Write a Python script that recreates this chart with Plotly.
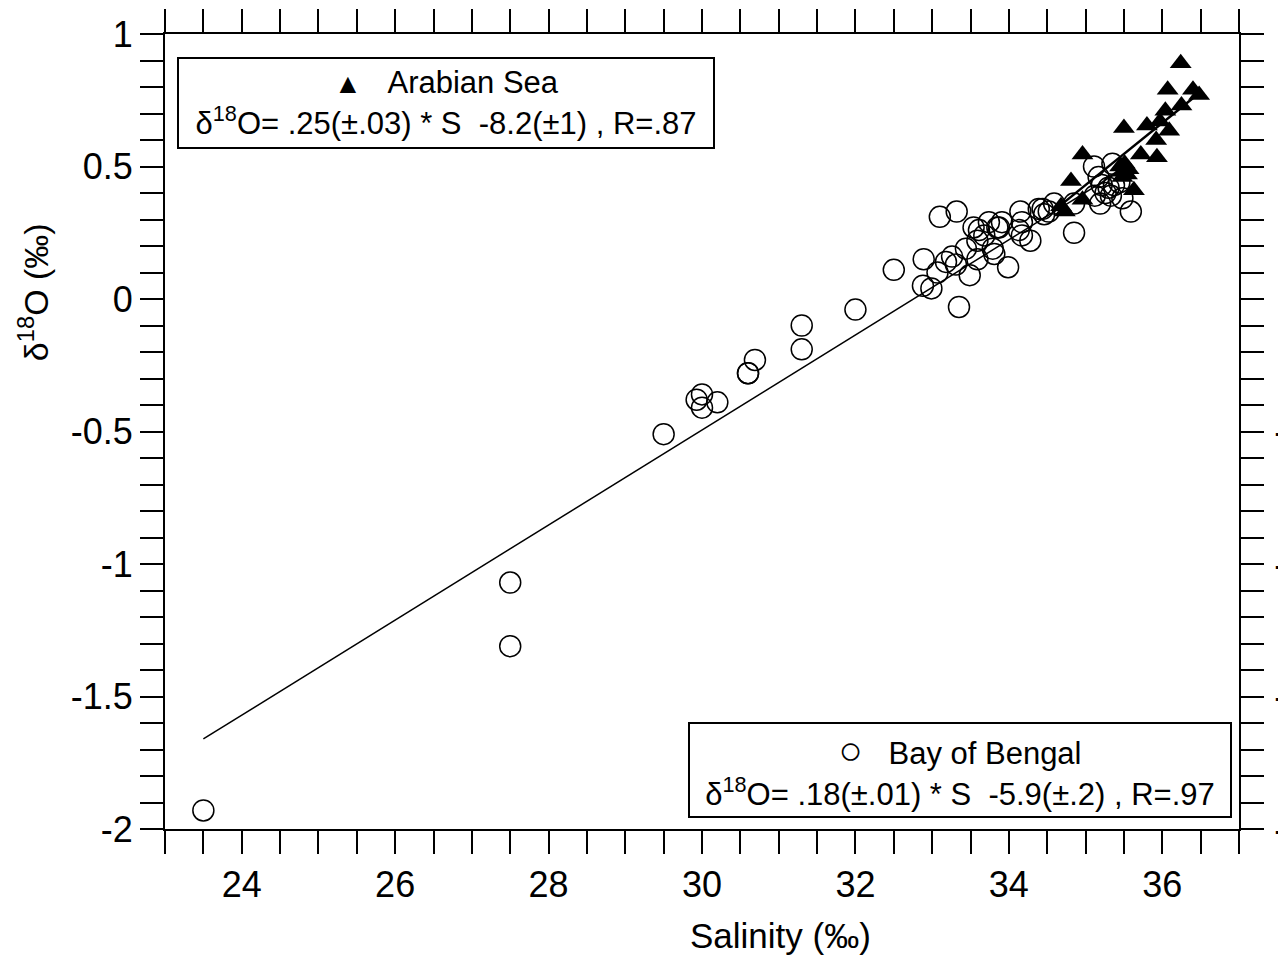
import plotly.graph_objects as go

# Bay of Bengal samples (salinity, d18O)
sal_bob = [23.5, 27.5, 27.5, 29.5, 29.93, 30.0, 30.0, 30.2, 30.6, 30.6, 30.69,
           31.3, 31.3, 32.0, 32.5, 32.88, 32.89, 32.99, 33.07, 33.1, 33.18, 33.26,
           33.31, 33.32, 33.35, 33.44, 33.49, 33.54, 33.59, 33.59, 33.61, 33.68,
           33.74, 33.79, 33.81, 33.85, 33.87, 33.91, 33.99, 34.13, 34.15, 34.17,
           34.17, 34.28, 34.39, 34.44, 34.46, 34.52, 34.59, 34.85, 34.85, 35.11,
           35.12, 35.17, 35.19, 35.21, 35.26, 35.3, 35.33, 35.35, 35.37, 35.44,
           35.48, 35.59]
d18o_bob = [-1.93, -1.07, -1.31, -0.51, -0.38, -0.36, -0.41, -0.39, -0.28, -0.28, -0.23,
            -0.10, -0.19, -0.04, 0.11, 0.05, 0.15, 0.04, 0.10, 0.31, 0.14, 0.16,
            0.13, 0.33, -0.03, 0.19, 0.09, 0.27, 0.22, 0.15, 0.26, 0.24,
            0.29, 0.19, 0.17, 0.27, 0.27, 0.29, 0.12, 0.26, 0.33, 0.29,
            0.24, 0.22, 0.34, 0.34, 0.32, 0.33, 0.36, 0.25, 0.36, 0.50,
            0.39, 0.46, 0.36, 0.43, 0.40, 0.42, 0.39, 0.51, 0.43, 0.44,
            0.38, 0.33]

# Arabian Sea samples
sal_arab = [36.24, 36.07, 36.40, 36.48, 36.25, 36.04, 35.97, 35.50, 35.80, 36.09,
            35.92, 35.72, 35.93, 34.96, 35.51, 35.56, 35.48, 35.48, 34.81, 35.63,
            34.96, 34.68, 34.73, 35.54, 35.45]
d18o_arab = [0.89, 0.79, 0.79, 0.77, 0.73, 0.71, 0.67, 0.645, 0.655, 0.635,
             0.60, 0.545, 0.535, 0.545, 0.51, 0.49, 0.48, 0.46, 0.445, 0.41,
             0.375, 0.35, 0.33, 0.47, 0.50]

# regression lines (end points)
bob_fit_x = [23.5, 35.6]
bob_fit_y = [-1.66, 0.51]
arab_fit_x = [34.7, 36.45]
arab_fit_y = [0.36, 0.77]

ytick_vals = [1, 0.5, 0, -0.5, -1, -1.5, -2]
ytick_text = ['1', '0.5', '0', '-0.5', '-1', '-1.5', '-2']
yright_vals = [-0.5, -1, -1.5, -2]
yright_text = ['-0.5', '-1', '-1.5', '-2']
xtick_vals = [24, 26, 28, 30, 32, 34, 36]
xodd_vals = [23, 25, 27, 29, 31, 33, 35, 37]

FONT = 'Liberation Sans, Arial, sans-serif'

fig = go.Figure()
fig.add_trace(go.Scatter(x=bob_fit_x, y=bob_fit_y, mode='lines',
                         line=dict(color='black', width=1.5), showlegend=False))
fig.add_trace(go.Scatter(x=sal_bob, y=d18o_bob, mode='markers', name='Bay of Bengal',
                         marker=dict(symbol='circle-open', size=21, color='black',
                                     line=dict(width=1.5, color='black'))))
fig.add_trace(go.Scatter(x=arab_fit_x, y=arab_fit_y, mode='lines',
                         line=dict(color='black', width=2.5), showlegend=False))
fig.add_trace(go.Scatter(x=sal_arab, y=d18o_arab, mode='markers', name='Arabian Sea',
                         marker=dict(symbol='triangle-up', size=19, color='black')))
# empty traces so the helper axes get drawn
fig.add_trace(go.Scatter(x=[], y=[], xaxis='x2', yaxis='y', showlegend=False))
fig.add_trace(go.Scatter(x=[], y=[], xaxis='x', yaxis='y2', showlegend=False))

# the page body adds an 8px offset, margins compensate for it
fig.update_layout(
    width=1286, height=958,
    margin=dict(l=157, r=55, t=26, b=137),
    plot_bgcolor='white', paper_bgcolor='white',
    showlegend=False,
    font=dict(family=FONT, color='black'),
    xaxis=dict(range=[23, 37], tickmode='array', tickvals=xtick_vals,
               ticks='outside', ticklen=23, tickwidth=2, tickcolor='black',
               showline=True, linewidth=2, linecolor='black', mirror='allticks',
               minor=dict(dtick=0.5, tick0=23, ticks='outside', ticklen=12,
                          tickwidth=2, tickcolor='black'),
               tickfont=dict(size=36), showgrid=False, zeroline=False,
               automargin=False),
    xaxis2=dict(range=[23, 37], overlaying='x', anchor='y', side='bottom',
                tickmode='array', tickvals=xodd_vals, ticks='outside', ticklen=17,
                tickwidth=2, tickcolor='black', showticklabels=False,
                showline=True, linewidth=2, linecolor='black', mirror='allticks',
                showgrid=False, zeroline=False, automargin=False),
    yaxis=dict(range=[-2, 1], tickmode='array', tickvals=ytick_vals, ticktext=ytick_text,
               ticks='outside', ticklen=23, tickwidth=2, tickcolor='black',
               showline=True, linewidth=2, linecolor='black', mirror='allticks',
               minor=dict(dtick=0.1, tick0=0, ticks='outside', ticklen=12,
                          tickwidth=2, tickcolor='black'),
               tickfont=dict(size=36), showgrid=False, zeroline=False,
               automargin=False),
    yaxis2=dict(range=[-2, 1], overlaying='y', anchor='x', side='right',
                tickmode='array', tickvals=yright_vals, ticktext=yright_text,
                ticks='outside', ticklen=24, tickwidth=2, tickcolor='black',
                ticklabelstandoff=3, tickfont=dict(size=36),
                showgrid=False, zeroline=False, showline=False, automargin=False),
)

fig.add_annotation(
    xref='paper', yref='paper', x=0.0116, y=0.971, xanchor='left', yanchor='top',
    text='<span style="font-size:28px">▲</span>&nbsp;&nbsp;&nbsp;Arabian Sea<br>'
         'δ<sup>18</sup>O= .25(±.03) * S&nbsp;&nbsp;-8.2(±1) , R=.87',
    showarrow=False, align='center', width=528, height=82,
    bordercolor='black', borderwidth=2, borderpad=3, bgcolor='white',
    font=dict(size=31))
fig.add_annotation(
    xref='paper', yref='paper', x=0.4867, y=0.0142, xanchor='left', yanchor='bottom',
    text='<span style="font-size:40px">○</span>&nbsp;&nbsp;&nbsp;Bay of Bengal<br>'
         'δ<sup>18</sup>O= .18(±.01) * S&nbsp;&nbsp;-5.9(±.2) , R=.97',
    showarrow=False, align='center', width=534, height=86,
    bordercolor='black', borderwidth=2, borderpad=3, bgcolor='white',
    font=dict(size=31))

fig.add_annotation(xref='paper', yref='paper', x=0.573, y=-0.134,
                   xanchor='center', yanchor='middle', showarrow=False,
                   text='Salinity (‰)', font=dict(size=35))
fig.add_annotation(xref='paper', yref='paper', x=-0.123, y=0.675,
                   xanchor='center', yanchor='middle', showarrow=False, textangle=-90,
                   text='δ<sup>18</sup>O (‰)', font=dict(size=34))

fig.write_html("out.html")
